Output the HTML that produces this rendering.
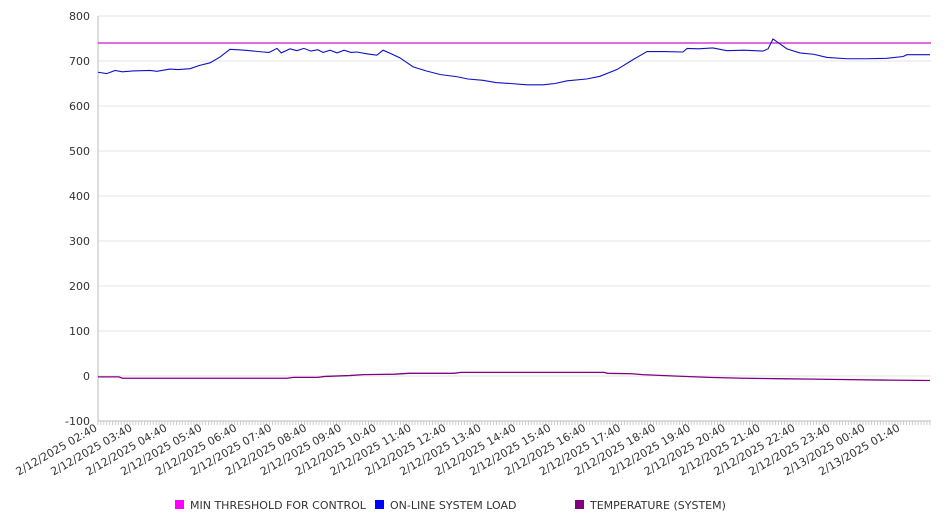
<!DOCTYPE html>
<html><head><meta charset="utf-8"><style>
body{margin:0;background:#fff;font-family:"Liberation Sans","DejaVu Sans",sans-serif}
svg text{font-family:"DejaVu Sans","Liberation Sans",sans-serif;fill:#333}
</style></head><body>
<svg id="c" width="946" height="526"></svg>
<script>
const yTicks=[-100,0,100,200,300,400,500,600,700,800];
const xLabels=["2/12/2025 02:40","2/12/2025 03:40","2/12/2025 04:40","2/12/2025 05:40","2/12/2025 06:40","2/12/2025 07:40","2/12/2025 08:40","2/12/2025 09:40","2/12/2025 10:40","2/12/2025 11:40","2/12/2025 12:40","2/12/2025 13:40","2/12/2025 14:40","2/12/2025 15:40","2/12/2025 16:40","2/12/2025 17:40","2/12/2025 18:40","2/12/2025 19:40","2/12/2025 20:40","2/12/2025 21:40","2/12/2025 22:40","2/12/2025 23:40","2/13/2025 00:40","2/13/2025 01:40"];
const threshold=740;
const loadHours=[0,0.25,0.49,0.7,1.0,1.49,1.69,2.06,2.3,2.64,2.9,3.21,3.5,3.78,4.2,4.73,4.9,5.13,5.25,5.5,5.7,5.9,6.1,6.3,6.45,6.65,6.85,7.05,7.25,7.42,7.7,7.99,8.17,8.4,8.65,9.03,9.4,9.8,10.29,10.6,11.03,11.4,11.81,12.3,12.75,13.1,13.44,14.0,14.38,14.87,15.33,15.73,16.2,16.76,16.88,17.2,17.62,18.02,18.5,19.05,19.2,19.34,19.74,20.11,20.5,20.89,21.46,22.03,22.6,23.07,23.18,23.84];
const loadValues=[675,672,679,676,678,679,677,682,681,683,690,696,709,726,724,720,719,728,718,727,723,728,722,725,719,724,718,724,719,720,716,713,724,716,707,687,678,670,665,660,657,652,650,647,647,650,656,660,666,681,703,721,721,720,728,727,729,723,724,722,727,749,727,718,715,708,705,705,706,710,714,714];
const tempHours=[0,0.6,0.7,5.4,5.6,6.3,6.5,7.2,7.6,8.5,8.9,10.2,10.4,14.5,14.6,15.3,15.6,16.5,17.5,18.5,19.5,20.5,21.5,22.5,23.84];
const tempValues=[-2,-2,-5,-5,-3,-3,-1,1,3,4,6,6,8,8,6,5,3,0,-3,-5,-6,-7,-8,-9,-10];
const NS="http://www.w3.org/2000/svg",svg=document.getElementById('c');
const X0=98,X1=931,PXH=34.9;
const xs=h=>X0+h*PXH, ys=v=>376-v*0.45;
function mk(t,a,p){const e=document.createElementNS(NS,t);for(const k in a)e.setAttribute(k,a[k]);(p||svg).appendChild(e);return e;}
yTicks.forEach(v=>{
 const g=mk('line',{x1:X0,x2:X1,y1:ys(v),y2:ys(v),stroke:'#e6e6e6','stroke-width':1});
 
 
 const t=mk('text',{x:90,y:ys(v)+4,'text-anchor':'end','font-size':11});
 t.textContent=v;
 
 
});
const ax=mk('line',{x1:X0,x2:X0,y1:16,y2:421,stroke:'#bbb'});


const bx=mk('line',{x1:X0,x2:X1,y1:421,y2:421,stroke:'#bbb'});


for(let h=0;xs(h)<=X1;h+=1/12){const tk=mk('line',{x1:xs(h),x2:xs(h),y1:421,y2:425,stroke:'#ccc'});}
xLabels.forEach((l,i)=>{
 const x=xs(i),y=430;
 const t=mk('text',{x:x,y:y,'text-anchor':'end','font-size':11,transform:`rotate(-30 ${x} ${y})`});
 t.textContent=l;
 
 
});
const th=mk('line',{x1:X0,x2:X1,y1:ys(threshold),y2:ys(threshold),stroke:'#d010d0','stroke-width':1.2});


const lp=mk('polyline',{points:loadHours.map((h,i)=>xs(h)+','+ys(loadValues[i])).join(' '),fill:'none',stroke:'#1010c8','stroke-width':1.1});


const tp=mk('polyline',{points:tempHours.map((h,i)=>xs(h)+','+ys(tempValues[i])).join(' '),fill:'none',stroke:'#800080','stroke-width':1.3});


[[175,'#ff00ff','MIN THRESHOLD FOR CONTROL'],[375,'#0000ff','ON-LINE SYSTEM LOAD'],[575,'#800080','TEMPERATURE (SYSTEM)']].forEach(([x,c,l])=>{
 const g=mk('g',{});
 
 
 mk('rect',{x:x,y:500,width:9,height:9,fill:c},g);
 const t=mk('text',{x:x+15,y:509,'font-size':11},g);t.textContent=l;
});
</script>
</body></html>
